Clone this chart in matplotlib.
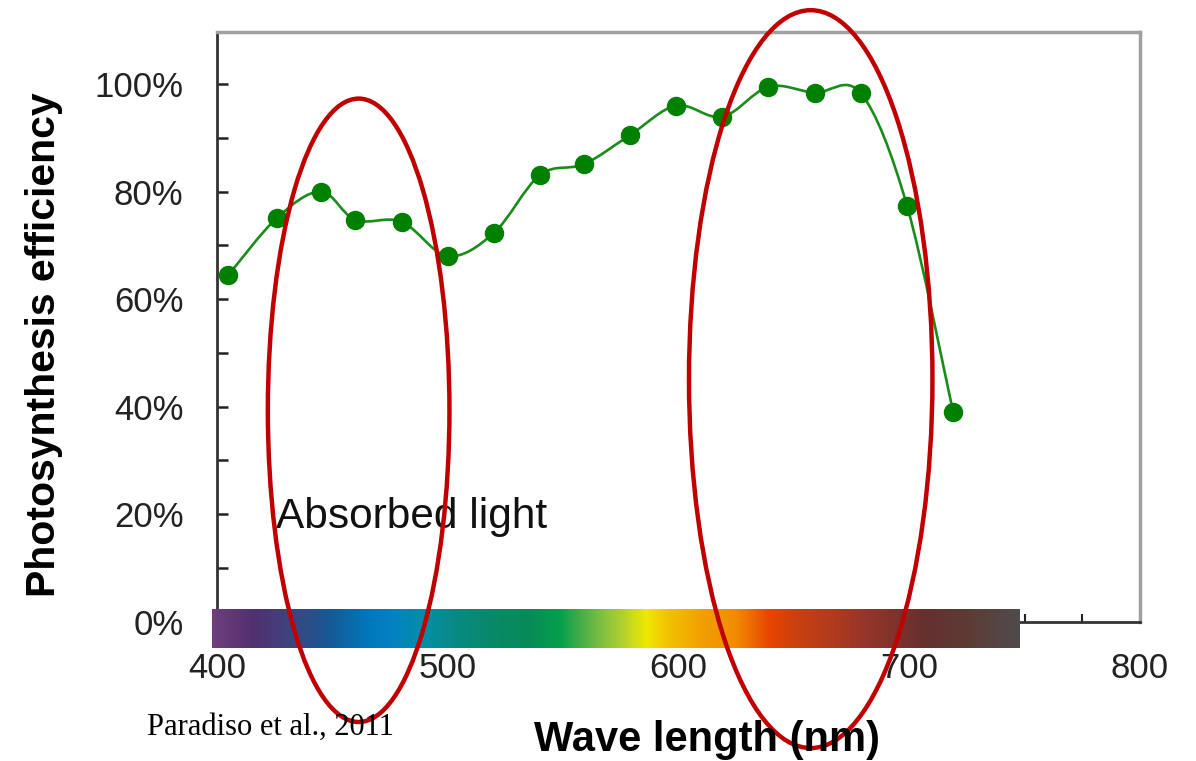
import numpy as np
import matplotlib
matplotlib.use('Agg')
import matplotlib.pyplot as plt
from matplotlib.path import Path
from matplotlib.patches import PathPatch, Ellipse
from matplotlib.colors import LinearSegmentedColormap

# =============================================================================
# Data
# =============================================================================

wavelength = [405, 426, 445, 460, 480, 500, 520, 540, 559, 579, 599, 619, 639, 659, 679, 699, 719]
efficiency = [64.5, 75.1, 80.0, 74.7, 74.4, 68.0, 72.3, 83.1, 85.1, 90.5, 96.0, 93.9, 99.5, 98.4, 98.3, 77.4, 39.0]

y_ticks = [0, 20, 40, 60, 80, 100]
y_tick_labels = ['0%', '20%', '40%', '60%', '80%', '100%']
x_ticks = [400, 500, 600, 700, 800]

# visible spectrum bar: stop wavelengths and colours
spec_nm = [398, 415, 433, 449, 465, 476, 489, 505, 520, 535, 549, 558, 567, 577, 586,
           595, 610, 625, 640, 652, 665, 680, 695, 707, 725, 740, 748]
spec_col = ['#6e3f7c', '#52306f', '#3b4680', '#155a96', '#0277bb', '#0282c2', '#058ea8',
            '#08897f', '#088a68', '#078a58', '#06a04c', '#48ad48', '#80c040', '#b8d22c',
            '#eeea00', '#f2c400', '#f2a000', '#f08c00', '#e84400', '#c84010', '#b43c1c',
            '#98362a', '#7e322c', '#653030', '#5e3a34', '#544644', '#504a4a']

# =============================================================================
# Plotting
# =============================================================================

plt.rcParams['font.family'] = ['Liberation Sans', 'DejaVu Sans']

fig = plt.figure(figsize=(11.96, 7.61), dpi=100)
ax = fig.add_axes([0.1814, 0.1833, 0.9532 - 0.1814, 0.958 - 0.1833])

ax.set_xlim(400, 800)
ax.set_ylim(0, 109.7)

#smooth line through the points (Catmull-Rom as cubic Bezier)
pts = np.column_stack([wavelength, efficiency]).astype(float)
verts = [pts[0]]
codes = [Path.MOVETO]
n = len(pts)
for i in range(n - 1):
    p0 = pts[max(i - 1, 0)]
    p1 = pts[i]
    p2 = pts[i + 1]
    p3 = pts[min(i + 2, n - 1)]
    verts += [p1 + (p2 - p0) / 6, p2 - (p3 - p1) / 6, p2]
    codes += [Path.CURVE4] * 3
ax.add_patch(PathPatch(Path(verts, codes), facecolor='none', edgecolor='#1a8c1a',
                       lw=1.9, zorder=3))
ax.plot(wavelength, efficiency, 'o', color='#008000', markersize=13, zorder=4)

#spectrum bar
pos = [(w - spec_nm[0]) / (spec_nm[-1] - spec_nm[0]) for w in spec_nm]
cmap = LinearSegmentedColormap.from_list('spec', list(zip(pos, spec_col)))
grad = np.linspace(0, 1, 512).reshape(1, -1)
ax.imshow(grad, cmap=cmap, aspect='auto', extent=(spec_nm[0], spec_nm[-1], -4.9, 2.3),
          clip_on=False, zorder=5, interpolation='bilinear')

#red ellipses
ax.add_patch(Ellipse((461.4, 39.3), 78.7, 116.0, fill=False, edgecolor='#c00000',
                     lw=3.2, clip_on=False, zorder=10))
ax.add_patch(Ellipse((657.3, 45.1), 105.5, 137.3, fill=False, edgecolor='#c00000',
                     lw=3.2, clip_on=False, zorder=10))

ax.text(425.5, 19.4, 'Absorbed light', fontsize=30.5, va='center', ha='left', color='#111111')

#axes styling
ax.set_yticks(y_ticks)
ax.set_yticklabels(y_tick_labels)
ax.set_yticks(np.arange(10, 101, 20), minor=True)
ax.set_xticks(x_ticks)
ax.set_xticks([725, 750, 775], minor=True)
ax.tick_params(axis='both', which='both', direction='in', labelsize=25, colors='#222222')
ax.tick_params(axis='y', which='both', length=8, width=1.8, pad=24)
ax.tick_params(axis='x', which='both', length=6, width=1.5, pad=22)

ax.spines['left'].set_color('#333333')
ax.spines['left'].set_linewidth(2)
ax.spines['bottom'].set_color('#333333')
ax.spines['bottom'].set_linewidth(2)
ax.spines['top'].set_color('#a0a0a0')
ax.spines['top'].set_linewidth(2.5)
ax.spines['right'].set_color('#a0a0a0')
ax.spines['right'].set_linewidth(2.5)

fig.text(0.037, 1 - 345 / 761, 'Photosynthesis efficiency', rotation=90, fontsize=29.5,
         fontweight='bold', ha='center', va='center')
fig.text(707 / 1196, 1 - 740 / 761, 'Wave length (nm)', fontsize=30, fontweight='bold',
         ha='center', va='center')
fig.text(147 / 1196, 1 - 727 / 761, 'Paradiso et al., 2011', fontsize=22,
         family='Liberation Serif', ha='left', va='center')

plt.savefig('out.png', dpi=100)
